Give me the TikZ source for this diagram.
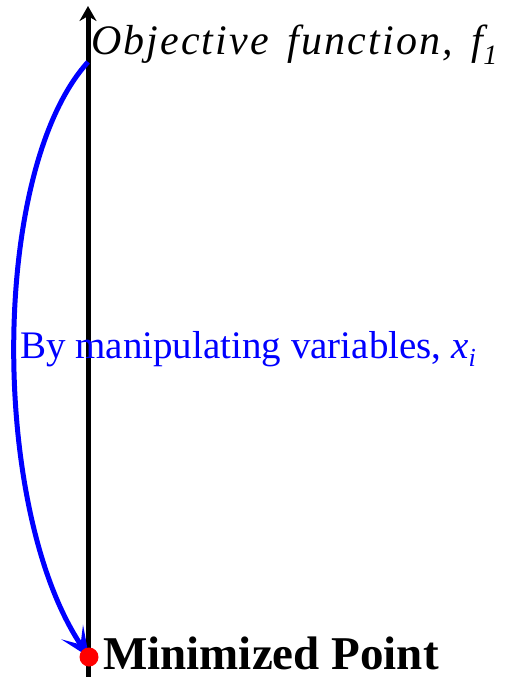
\documentclass[tikz,border=0pt]{standalone}
\usepackage{fontspec}
\setmainfont{Liberation Serif}
\newfontfamily\objfont{Liberation Serif}[LetterSpace=5,WordSpace=1.5]
\usetikzlibrary{arrows.meta}
\tikzset{
  axisline/.style={line width=5pt,black,-{Stealth[length=15pt,width=17pt]}},
  bluecurve/.style={line width=5pt,blue,-{Stealth[length=30pt,width=26pt,inset=15pt]}},
  lbl/.style={inner sep=0pt,anchor=base west}
}
\begin{document}
\begin{tikzpicture}[x=1pt,y=-1pt]
\useasboundingbox (0,0) rectangle (516,677);
\coordinate (bot) at (88,690);
\coordinate (top) at (88,6);
\coordinate (start) at (88,62);
\coordinate (minpt) at (89,657);
\draw[axisline] (bot) -- (top);
\draw[bluecurve] (start) .. controls (-10,170) and (-10,510) .. (minpt);
\node[circle,fill=red,inner sep=0pt,minimum size=19pt] (dot) at (minpt) {};
\node[lbl] (obj) at (91,55) {\fontsize{42}{42}\selectfont\objfont\itshape Objective function, f\raisebox{-0.22em}{\fontsize{28}{28}\selectfont 1}};
\node[lbl,text=blue] (manip) at (20,358) {\fontsize{39}{39}\selectfont By manipulating variables, \textit{x}\raisebox{-0.22em}{\fontsize{26}{26}\selectfont\itshape i}};
\node[lbl] (minlbl) at (103,669) {\fontsize{47}{47}\selectfont\bfseries Minimized Point};
\end{tikzpicture}
\end{document}
